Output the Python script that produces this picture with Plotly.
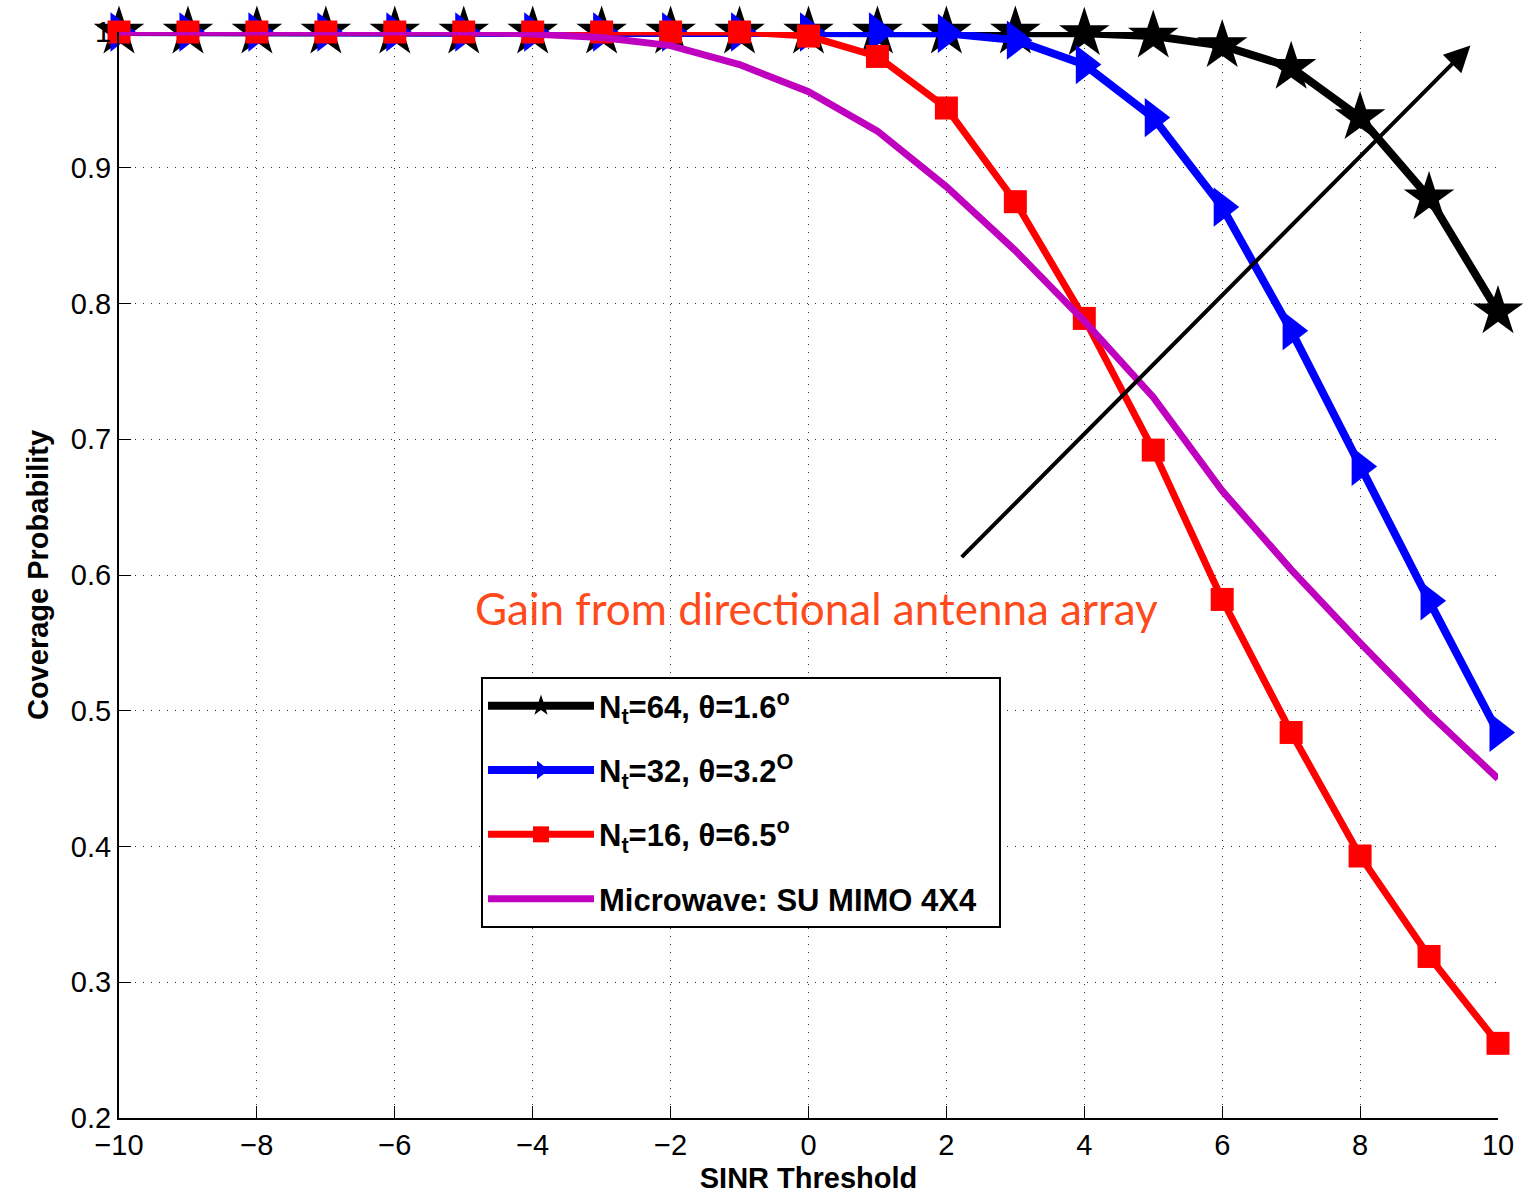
import plotly.graph_objects as go

sinr = [-10, -9, -8, -7, -6, -5, -4, -3, -2, -1, 0, 1, 2, 3, 4, 5, 6, 7, 8, 9, 10]
nt64 = [1.000, 1.000, 1.000, 1.000, 1.000, 1.000, 1.000, 1.000, 1.000, 1.000, 1.000,
        1.000, 1.000, 1.000, 0.999, 0.997, 0.990, 0.974, 0.937, 0.878, 0.794]
nt32 = [1.000, 1.000, 1.000, 1.000, 1.000, 1.000, 1.000, 1.000, 1.000, 1.000, 1.000,
        1.000, 0.999, 0.994, 0.976, 0.937, 0.871, 0.780, 0.680, 0.581, 0.484]
nt16 = [1.000, 1.000, 1.000, 1.000, 1.000, 1.000, 1.000, 1.000, 1.000, 1.000, 0.997,
        0.982, 0.944, 0.875, 0.789, 0.692, 0.582, 0.484, 0.393, 0.319, 0.255]
microwave = [1.000, 1.000, 1.000, 1.000, 1.000, 1.000, 0.9985, 0.996, 0.990, 0.976, 0.956,
             0.927, 0.886, 0.839, 0.787, 0.731, 0.662, 0.604, 0.550, 0.498, 0.450]

names = ["N<sub>t</sub>=64, θ=1.6<sup>o</sup>",
         "N<sub>t</sub>=32, θ=3.2<sup>O</sup>",
         "N<sub>t</sub>=16, θ=6.5<sup>o</sup>",
         "Microwave: SU MIMO 4X4\u00a0\u00a0"]

xticks = [-10, -8, -6, -4, -2, 0, 2, 4, 6, 8, 10]
xticktext = ["\u221210", "\u22128", "\u22126", "\u22124", "\u22122", "0", "2", "4", "6", "8", "10"]
yticks = [0.2, 0.3, 0.4, 0.5, 0.6, 0.7, 0.8, 0.9, 1.0]
yticktext = ["0.2", "0.3", "0.4", "0.5", "0.6", "0.7", "0.8", "0.9", "1"]

FONT = "Liberation Sans, Arial, sans-serif"

fig = go.Figure()
fig.add_trace(go.Scatter(x=sinr, y=nt64, name=names[0], mode="lines+markers",
                         legendgroup="g1",
                         line=dict(color="black", width=8),
                         marker=dict(symbol="star", size=38, color="black"),
                         cliponaxis=False))
fig.add_trace(go.Scatter(x=sinr, y=nt32, name=names[1], mode="lines+markers",
                         legendgroup="g2",
                         line=dict(color="#0000ff", width=8),
                         marker=dict(symbol="triangle-right", size=34, color="#0000ff"),
                         cliponaxis=False))
fig.add_trace(go.Scatter(x=sinr, y=nt16, name=names[2], mode="lines+markers",
                         legendgroup="g3",
                         line=dict(color="#ff0000", width=7),
                         marker=dict(symbol="square", size=23, color="#ff0000"),
                         cliponaxis=False))
fig.add_trace(go.Scatter(x=sinr, y=microwave, name=names[3], mode="lines",
                         legendgroup="g4",
                         line=dict(color="#bf00bf", width=7),
                         cliponaxis=False))

fig.add_annotation(x=9.6, y=0.990, ax=2.2, ay=0.612, xref="x", yref="y",
                   axref="x", ayref="y", showarrow=True, arrowhead=2,
                   arrowsize=1.3, arrowwidth=4, arrowcolor="black", text="")
fig.add_annotation(x=0.11, y=0.5757, xref="x", yref="y", showarrow=False,
                   text="Gain from directional antenna array",
                   font=dict(family="Lato, sans-serif", size=44, color="#ff4a1c"))

fig.update_layout(
    width=1528, height=1195,
    margin=dict(l=119, r=30, t=32, b=77),
    paper_bgcolor="white", plot_bgcolor="white",
    font=dict(family=FONT, size=29, color="black"),
    showlegend=True,
    legend=dict(x=0.2625, y=0.406, xanchor="left", yanchor="top",
                bgcolor="white", bordercolor="black", borderwidth=2,
                font=dict(family=FONT, size=31, color="black", weight="bold"),
                itemwidth=106, tracegroupgap=21, traceorder="grouped",
                itemsizing="trace"),
)
fig.update_xaxes(range=[-10, 10], tickvals=xticks, ticktext=xticktext,
                 ticks="inside", ticklen=12, tickwidth=1, tickcolor="black",
                 showline=True, linecolor="black", linewidth=2,
                 showgrid=True, gridcolor="#333333", gridwidth=1, griddash="1px,7px",
                 zeroline=False, automargin=False,
                 title=dict(text="<b>SINR Threshold</b>", standoff=8,
                            font=dict(family=FONT, size=29)))
fig.update_yaxes(range=[0.2, 1.0], tickvals=yticks, ticktext=yticktext,
                 ticks="inside", ticklen=12, tickwidth=1, tickcolor="black",
                 showline=True, linecolor="black", linewidth=2,
                 showgrid=True, gridcolor="#333333", gridwidth=1, griddash="1px,7px",
                 zeroline=False, automargin=False,
                 title=dict(text="<b>Coverage Probability</b>", standoff=14,
                            font=dict(family=FONT, size=29)))

fig.write_html("out.html")
